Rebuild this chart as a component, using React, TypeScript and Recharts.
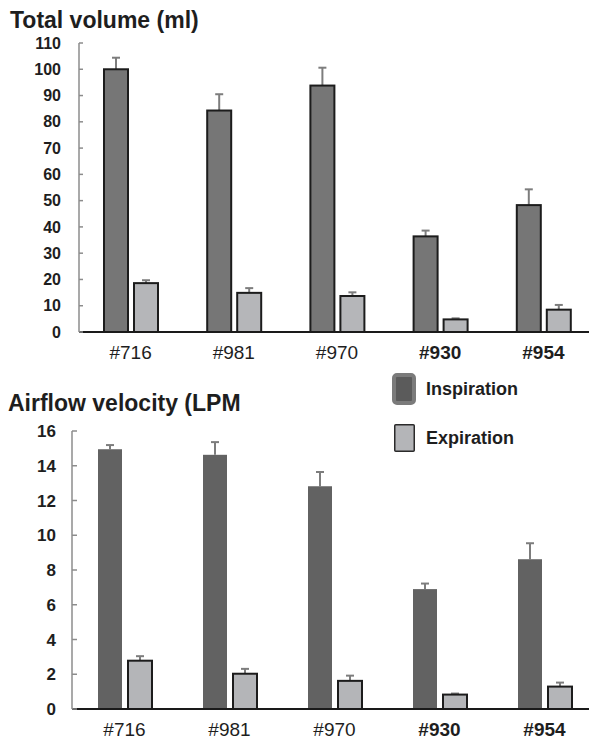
import { Bar, BarChart, Legend, XAxis, YAxis } from "recharts";

const categories = ["#716", "#981", "#970", "#930", "#954"];
const boldCategories = ["#930", "#954"];
const seriesNames = ["Inspiration", "Expiration"];

const volumeInsp = [100, 84.3, 93.8, 36.4, 48.3];
const volumeInspErr = [4.4, 6.2, 6.8, 2.2, 6.0];
const volumeExp = [18.6, 14.9, 13.7, 4.8, 8.5];
const volumeExpErr = [1.1, 1.8, 1.4, 0.4, 1.8];
const volumeTicks = [0, 10, 20, 30, 40, 50, 60, 70, 80, 90, 100, 110];

const velocityInsp = [14.95, 14.63, 12.82, 6.9, 8.62];
const velocityInspErr = [0.24, 0.73, 0.82, 0.32, 0.92];
const velocityExp = [2.78, 2.03, 1.62, 0.83, 1.29];
const velocityExpErr = [0.26, 0.28, 0.3, 0.06, 0.23];
const velocityTicks = [0, 2, 4, 6, 8, 10, 12, 14, 16];

const volumeData = categories.map((name, i) => ({
  name,
  insp: volumeInsp[i],
  inspErr: volumeInspErr[i],
  exp: volumeExp[i],
  expErr: volumeExpErr[i],
}));

const velocityData = categories.map((name, i) => ({
  name,
  insp: velocityInsp[i],
  inspErr: velocityInspErr[i],
  exp: velocityExp[i],
  expErr: velocityExpErr[i],
}));

const FONT = '"Liberation Sans", Arial, Helvetica, sans-serif';
const INK = "#1e1e1e";

// bar with a one-sided (upper) error whisker, sized from the bar's own scale
function errorShape(valueKey: string, errKey: string, stroke?: string) {
  return (props: any) => {
    const { x, y, width, height, fill, payload } = props;
    const value = payload[valueKey];
    const err = payload[errKey];
    const k = value ? height / value : 0;
    const cx = x + width / 2;
    const top = y - err * k;
    return (
      <g>
        <line x1={cx} x2={cx} y1={y} y2={top} stroke="#7d7d7d" strokeWidth={2} />
        <line x1={cx - 4} x2={cx + 4} y1={top} y2={top} stroke="#7d7d7d" strokeWidth={2} />
        <rect
          x={x}
          y={y}
          width={width}
          height={height}
          fill={fill}
          stroke={stroke ?? "none"}
          strokeWidth={stroke ? 2 : 0}
        />
      </g>
    );
  };
}

function CategoryTick(props: any) {
  const { x, y, payload } = props;
  const bold = boldCategories.includes(payload.value);
  return (
    <text
      x={x}
      y={y}
      dy="0.71em"
      textAnchor="middle"
      fontFamily={FONT}
      fontSize={19}
      fontWeight={bold ? 700 : 400}
      fill={INK}
    >
      {payload.value}
    </text>
  );
}

const legendIcons: Record<string, any> = {
  Inspiration: { w: 24, h: 32, fill: "#5b5b5b", stroke: "#7b7b7b", sw: 4, r: 3 },
  Expiration: { w: 21, h: 28, fill: "#b4b5b8", stroke: "#2a2a2a", sw: 1.5, r: 1 },
};

function LegendBox({ payload }: any) {
  const items = seriesNames.filter((n) =>
    (payload || []).some((p: any) => p.value === n)
  );
  return (
    <div style={{ fontFamily: FONT }}>
      {items.map((name, i) => {
        const ic = legendIcons[name];
        return (
          <div
            key={name}
            style={{
              display: "flex",
              alignItems: "center",
              height: i === 0 ? 32 : 28,
              marginBottom: i === 0 ? 19 : 0,
            }}
          >
            <div style={{ width: 24, display: "flex", justifyContent: "center" }}>
              <svg width={ic.w} height={ic.h}>
                <rect
                  x={ic.sw / 2}
                  y={ic.sw / 2}
                  width={ic.w - ic.sw}
                  height={ic.h - ic.sw}
                  rx={ic.r}
                  fill={ic.fill}
                  stroke={ic.stroke}
                  strokeWidth={ic.sw}
                />
              </svg>
            </div>
            <span
              style={{
                marginLeft: 10,
                fontSize: 18,
                fontWeight: 700,
                color: INK,
                lineHeight: "20px",
              }}
            >
              {name}
            </span>
          </div>
        );
      })}
    </div>
  );
}

const titleStyle: React.CSSProperties = {
  position: "absolute",
  fontFamily: FONT,
  fontWeight: 700,
  fontSize: 23,
  lineHeight: "23px",
  color: INK,
  whiteSpace: "nowrap",
};

export default function App() {
  return (
    <div
      style={{
        position: "absolute",
        left: 0,
        top: 0,
        width: 589,
        height: 739,
        overflow: "hidden",
        background: "#fff",
      }}
    >
      <div style={{ position: "absolute", left: 0, top: 35 }}>
        <BarChart
          width={595}
          height={337}
          data={volumeData}
          margin={{ top: 8, right: 0, bottom: 0, left: 0 }}
          barSize={24}
          barGap={6}
        >
          <XAxis
            dataKey="name"
            height={40}
            tickSize={0}
            tickMargin={14}
            tick={<CategoryTick />}
            axisLine={{ stroke: "#1a1a1a", strokeWidth: 2 }}
            tickLine={false}
          />
          <YAxis
            width={79}
            domain={[0, 110]}
            ticks={volumeTicks}
            interval={0}
            tickSize={-4}
            tickMargin={22}
            axisLine={{ stroke: "#8c8c8c", strokeWidth: 1.5 }}
            tickLine={{ stroke: "#8c8c8c", strokeWidth: 1.5 }}
            tick={{ fontFamily: FONT, fontSize: 16, fontWeight: 700, fill: INK }}
          />
          <Bar
            dataKey="insp"
            name="Inspiration"
            fill="#767676"
            shape={errorShape("insp", "inspErr", "#1c1c1c")}
            isAnimationActive={false}
          />
          <Bar
            dataKey="exp"
            name="Expiration"
            fill="#b5b6b9"
            shape={errorShape("exp", "expErr", "#1c1c1c")}
            isAnimationActive={false}
          />
        </BarChart>
      </div>

      <div style={{ position: "absolute", left: 0, top: 365 }}>
        <BarChart
          width={597}
          height={374}
          data={velocityData}
          margin={{ top: 66, right: 0, bottom: 0, left: 0 }}
          barSize={24}
          barGap={6}
        >
          <XAxis
            dataKey="name"
            height={30}
            tickSize={0}
            tickMargin={14}
            tick={<CategoryTick />}
            axisLine={{ stroke: "#1a1a1a", strokeWidth: 2 }}
            tickLine={false}
          />
          <YAxis
            width={72}
            domain={[0, 16]}
            ticks={velocityTicks}
            interval={0}
            tickSize={-5}
            tickMargin={21}
            axisLine={{ stroke: "#8c8c8c", strokeWidth: 1.5 }}
            tickLine={{ stroke: "#8c8c8c", strokeWidth: 1.5 }}
            tick={{ fontFamily: FONT, fontSize: 17, fontWeight: 700, fill: INK }}
          />
          <Legend
            layout="vertical"
            align="center"
            verticalAlign="middle"
            content={<LegendBox />}
            wrapperStyle={{ top: 8, left: 392, width: 180 }}
          />
          <Bar
            dataKey="insp"
            name="Inspiration"
            fill="#626262"
            shape={errorShape("insp", "inspErr")}
            isAnimationActive={false}
          />
          <Bar
            dataKey="exp"
            name="Expiration"
            fill="#b4b5b8"
            shape={errorShape("exp", "expErr", "#1c1c1c")}
            isAnimationActive={false}
          />
        </BarChart>
      </div>

      <div style={{ ...titleStyle, left: 10, top: 9 }}>Total volume (ml)</div>
      <div style={{ ...titleStyle, left: 8, top: 392 }}>Airflow velocity (LPM</div>
    </div>
  );
}
